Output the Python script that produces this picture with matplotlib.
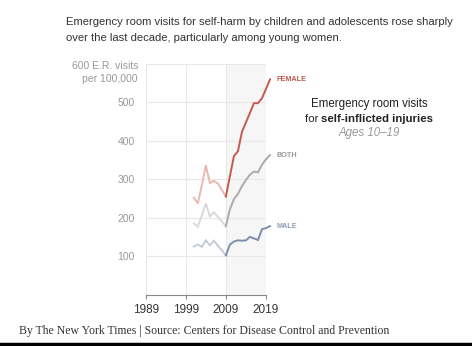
import matplotlib.pyplot as plt

years = [2001, 2002, 2003, 2004, 2005, 2006, 2007, 2008, 2009, 2010,
         2011, 2012, 2013, 2014, 2015, 2016, 2017, 2018, 2019, 2020]
female = [252, 237, 285, 336, 290, 296, 289, 272, 255, 308,
          360, 373, 423, 448, 473, 498, 498, 511, 535, 560]
both = [185, 176, 206, 237, 204, 214, 202, 190, 178, 222,
        248, 262, 282, 298, 312, 320, 318, 338, 352, 363]
male = [125, 130, 124, 141, 128, 140, 127, 115, 102, 130,
        138, 141, 140, 141, 150, 146, 142, 170, 173, 178]

x_ticks = [1989, 1999, 2009, 2019]
y_ticks = [100, 200, 300, 400, 500]
split_year = 2009

series = [
    ("FEMALE", female, "#c45a4f", "#ebb8b1", "#c0554b"),
    ("BOTH", both, "#ababab", "#d9d9d9", "#999999"),
    ("MALE", male, "#7c8ea8", "#c3ccd9", "#8e9db3"),
]

plt.rcParams['font.family'] = ['Liberation Sans', 'DejaVu Sans']

fig = plt.figure(figsize=(4.72, 3.46), dpi=100)
W, H = 472, 346

ax = fig.add_axes([145.7 / W, 1 - 294.5 / H, 120.3 / W, 230.5 / H])
ax.set_xlim(1989, 2019)
ax.set_ylim(0, 600)

# shaded last decade
ax.axvspan(2009, 2019, color="#f6f6f6", zorder=0, lw=0)

for yv in y_ticks + [600]:
    ax.axhline(yv, color="#e8e8e8", lw=0.8, zorder=1)
for xv in x_ticks:
    ax.axvline(xv, color="#e8e8e8", lw=0.8, zorder=1)

i = years.index(split_year)
for name, vals, dark, light, lab in series:
    ax.plot(years[:i + 1], vals[:i + 1], color=light, lw=1.4, zorder=3,
            clip_on=False, solid_joinstyle='miter')
    ax.plot(years[i:], vals[i:], color=dark, lw=1.4, zorder=4,
            clip_on=False, solid_joinstyle='miter')
    ax.annotate(name, xy=(years[-1], vals[-1]), xytext=(5, 0),
                textcoords='offset points', va='center', ha='left',
                fontsize=5.2, fontweight='bold', color=lab,
                annotation_clip=False)

for s in ['left', 'right', 'top']:
    ax.spines[s].set_visible(False)
ax.spines['bottom'].set_color("#888888")
ax.spines['bottom'].set_linewidth(0.8)

ax.set_xticks(x_ticks)
ax.set_xticklabels([str(v) for v in x_ticks], fontsize=8.5, color="#333333")
ax.tick_params(axis='x', length=3, width=0.8, color="#888888", pad=4)

ax.set_yticks(y_ticks)
ax.set_yticklabels([str(v) for v in y_ticks], fontsize=7.5, color="#999999")
ax.tick_params(axis='y', length=0, pad=8)

fig.text(138 / W, 1 - 66 / H, "600 E.R. visits", ha='right', va='center',
         fontsize=7.5, color="#999999")
fig.text(138 / W, 1 - 79 / H, "per 100,000", ha='right', va='center',
         fontsize=7.5, color="#999999")

fig.text(66 / W, 1 - 22 / H,
         "Emergency room visits for self-harm by children and adolescents rose sharply",
         ha='left', va='center', fontsize=8.1, color="#333333")
fig.text(66 / W, 1 - 38 / H,
         "over the last decade, particularly among young women.",
         ha='left', va='center', fontsize=8.1, color="#333333")

# side label
cx = 369 / W
fig.text(cx, 1 - 104 / H, "Emergency room visits", ha='center', va='center',
         fontsize=8.3, color="#222222")
t1 = fig.text(cx, 1 - 119 / H, "for ", ha='left', va='center',
              fontsize=8.2, color="#222222")
t2 = fig.text(cx, 1 - 119 / H, "self-inflicted injuries", ha='left',
              va='center', fontsize=8.2, fontweight='bold', color="#222222")
fig.text(cx, 1 - 133 / H, "Ages 10\u201319", ha='center', va='center',
         fontsize=8.3, style='italic', color="#999999")

fig.canvas.draw()
r = fig.canvas.get_renderer()
w1 = t1.get_window_extent(r).width
w2 = t2.get_window_extent(r).width
start = 369 - (w1 + w2) / 2
t1.set_x(start / W)
t2.set_x((start + w1) / W)

fig.text(19 / W, 1 - 331 / H,
         "By The New York Times | Source: Centers for Disease Control and Prevention",
         ha='left', va='center', fontsize=8.45, color="#333333",
         family='Liberation Serif')

fig.add_artist(plt.Line2D([0, 1], [1 - 344 / H, 1 - 344 / H], color='black',
                          lw=2.5, transform=fig.transFigure))

plt.savefig("out.png", dpi=100)
